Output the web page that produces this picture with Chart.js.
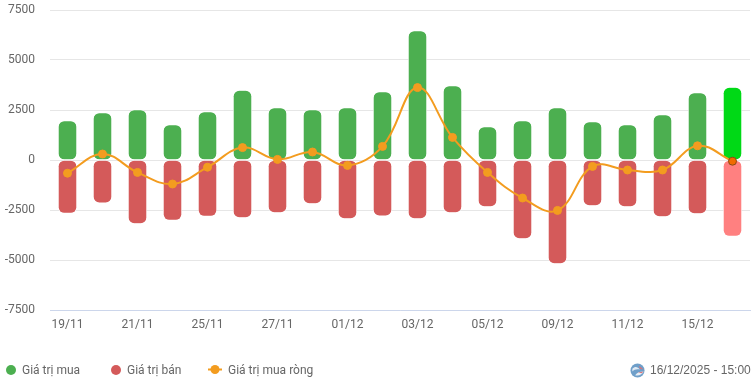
<!DOCTYPE html>
<html lang="vi">
<head>
<meta charset="utf-8">
<title>Giá trị mua ròng</title>
<script src="https://cdn.jsdelivr.net/npm/chart.js@4/dist/chart.umd.min.js"></script>
<style>
  html, body { margin: 0; padding: 0; background: #fff; }
  #wrap { position: relative; width: 753px; height: 378px; overflow: hidden; font-family: Roboto, sans-serif; font-size: 12px; color: #666; }
  #chart { position: absolute; left: 0; top: 0; }
  .leg { position: absolute; top: 363px; line-height: 15px; white-space: nowrap; }
  .dot { position: absolute; top: 365px; width: 10px; height: 10px; border-radius: 50%; }
  #netline { position: absolute; left: 208px; top: 362px; }
  #globe { position: absolute; left: 630px; top: 363px; }
</style>
</head>
<body>
<div id="wrap">
  <canvas id="chart" width="753" height="378"></canvas>
  <span class="dot" style="left:6px;background:#4caf50"></span>
  <span class="leg" style="left:22px">Giá trị mua</span>
  <span class="dot" style="left:111px;background:#d45a5a"></span>
  <span class="leg" style="left:127px">Giá trị bán</span>
  <svg id="netline" width="14" height="15">
    <line x1="0" y1="7.5" x2="14" y2="7.5" stroke="#f39c1f" stroke-width="2"></line>
    <circle cx="7" cy="7.5" r="4.5" fill="#f39c1f"></circle>
  </svg>
  <span class="leg" style="left:228px">Giá trị mua ròng</span>
  <svg id="globe" width="15" height="15" viewBox="0 0 15 16">
    <circle cx="7.5" cy="8" r="7.5" fill="#6f9fc9"></circle>
    <path d="M2 6 C5 3 8 4 10 7 C7 6 4 7 2 9 Z" fill="#dfe9f3"></path>
    <path d="M5 13 C7 10 10 9 14 9 C13 12 9 14 5 13 Z" fill="#e8eef5"></path>
    <path d="M9 3 L14 7 L10 6 Z" fill="#d9737a"></path>
    <path d="M8 10 L14 9 L12 11 Z" fill="#d9737a"></path>
  </svg>
  <span class="leg" style="left:650px;font-family:'Liberation Sans',sans-serif">16/12/2025 - 15:00</span>
</div>
<script>
// Du lieu doc tu hinh
const dates = ["19/11","20/11","21/11","24/11","25/11","26/11","27/11","28/11","01/12","02/12","03/12","04/12","05/12","08/12","09/12","10/12","11/12","12/12","15/12","16/12"];
const buyValues = [1950,2350,2500,1750,2400,3470,2600,2500,2600,3400,6450,3700,1650,1950,2600,1900,1750,2250,3350,3620];
const sellValues = [-2650,-2130,-3170,-3000,-2800,-2870,-2620,-2170,-2920,-2780,-2920,-2620,-2320,-3920,-5170,-2270,-2320,-2820,-2670,-3800];
const netValues = [-660,300,-620,-1200,-360,620,30,400,-270,680,3620,1130,-620,-1900,-2520,-320,-500,-500,710,-60];

// cot cuoi dang duoc highlight
function withLast(color, lastColor) {
  return dates.map((d, i) => i === dates.length - 1 ? lastColor : color);
}

const ctx = document.getElementById("chart");

new Chart(ctx, {
  data: {
    labels: dates,
    datasets: [
      {
        type: "line",
        label: "Giá trị mua ròng",
        data: netValues,
        order: 0,
        borderColor: "#f39c1f",
        borderWidth: 2,
        tension: 0.4,
        pointRadius: 4,
        pointBackgroundColor: withLast("#f39c1f", "#f06a00"),
        pointBorderColor: withLast("#f39c1f", "#8a4a16"),
        pointBorderWidth: 1
      },
      {
        type: "bar",
        label: "Giá trị mua",
        data: buyValues,
        order: 1,
        backgroundColor: withLast("#4caf50", "#00d916"),
        borderColor: "#fff",
        borderWidth: 0.5,
        borderSkipped: false,
        borderRadius: 6,
        barThickness: 18
      },
      {
        type: "bar",
        label: "Giá trị bán",
        data: sellValues,
        order: 1,
        backgroundColor: withLast("#d45a5a", "#ff8080"),
        borderColor: "#fff",
        borderWidth: 0.5,
        borderSkipped: false,
        borderRadius: 6,
        barThickness: 18
      }
    ]
  },
  options: {
    responsive: false,
    animation: false,
    events: [],
    layout: { autoPadding: false, padding: { left: 0, right: 3, top: 10, bottom: 38 } },
    plugins: { legend: { display: false }, tooltip: { enabled: false } },
    scales: {
      x: {
        stacked: true,
        afterFit: (scale) => { scale.height = 30; scale.paddingLeft = 0; scale.paddingRight = 0; },
        grid: { display: false, drawTicks: false },
        border: { color: "#ccd6eb", width: 1 },
        ticks: {
          autoSkip: false,
          maxRotation: 0,
          padding: 8,
          color: "#666",
          font: { family: "Roboto", size: 12 },
          callback: function (value, index) {
            return index % 2 === 0 ? this.getLabelForValue(value) : "";
          }
        }
      },
      y: {
        stacked: true,
        min: -7500,
        max: 7500,
        afterFit: (scale) => { scale.width = 50; scale.paddingTop = 0; scale.paddingBottom = 0; },
        grid: { color: "#e6e6e6", drawTicks: false },
        border: { display: false },
        ticks: {
          stepSize: 2500,
          padding: 15,
          color: "#666",
          font: { family: "Roboto", size: 12 },
          callback: (value) => String(value)
        }
      }
    }
  }
});
</script>
</body>
</html>
